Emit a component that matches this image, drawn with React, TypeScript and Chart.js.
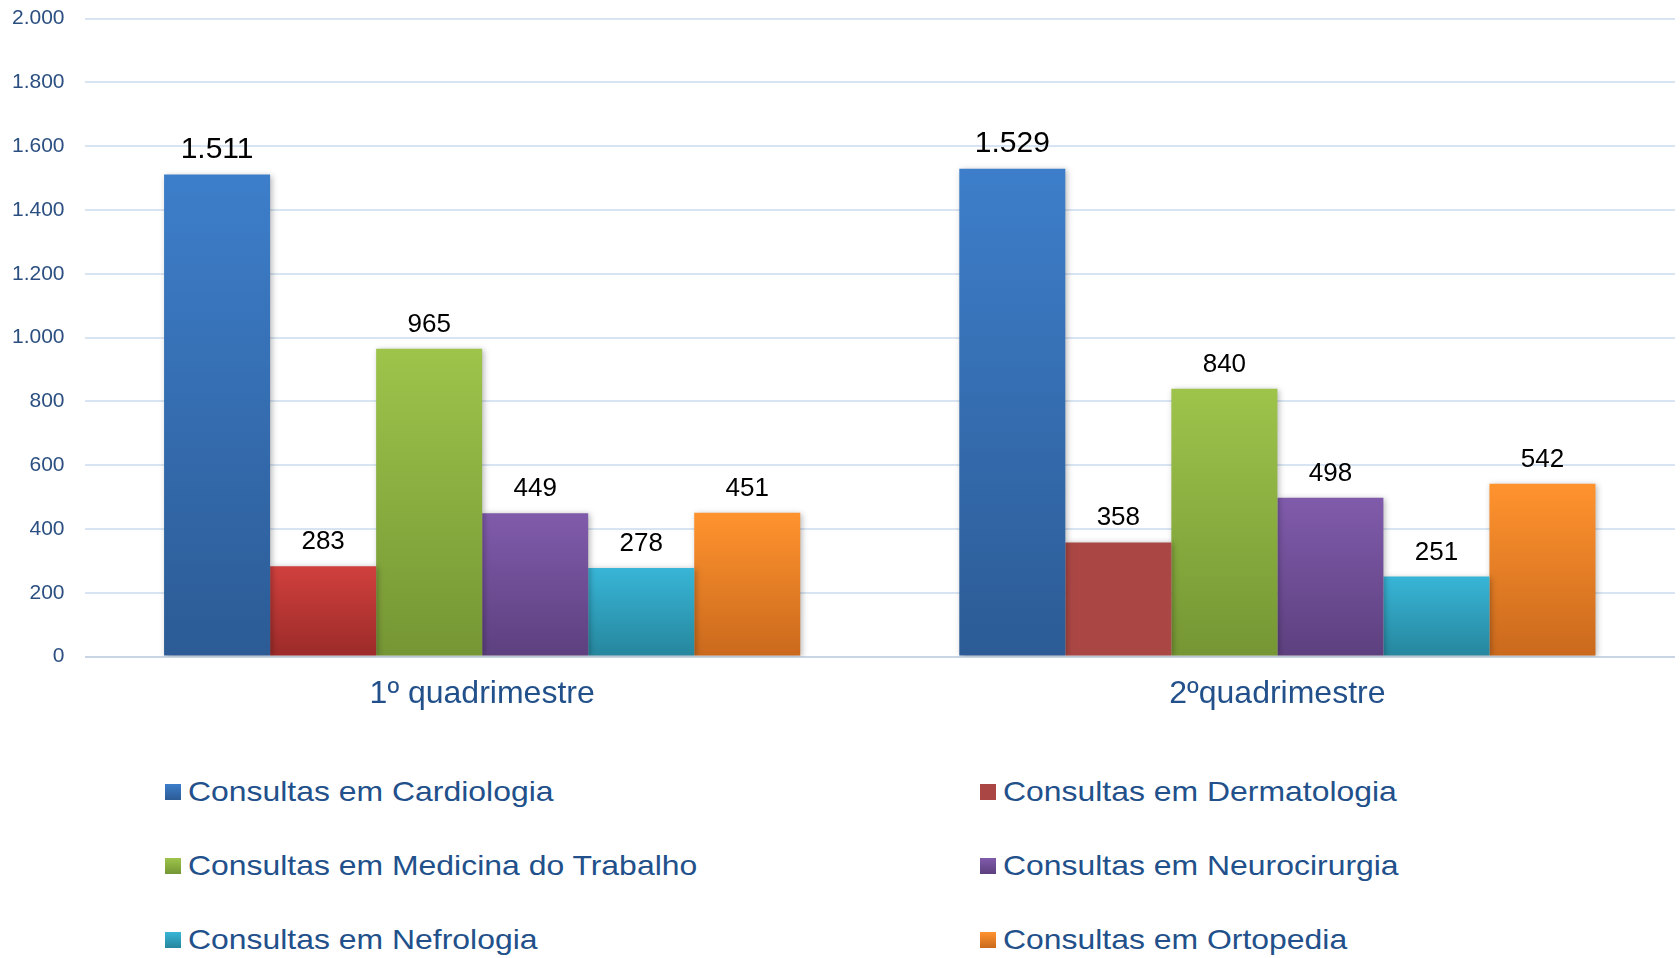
import React, { useEffect, useRef } from "react";
import { Chart, registerables } from "chart.js";

Chart.register(...registerables);

// ---------- data ----------
const categories = ["1º quadrimestre", "2ºquadrimestre"];
const seriesNames = [
  "Consultas em Cardiologia",
  "Consultas em Dermatologia",
  "Consultas em Medicina do Trabalho",
  "Consultas em Neurocirurgia",
  "Consultas em Nefrologia",
  "Consultas em Ortopedia",
];
const cardiologia = [1511, 1529];
const dermatologia = [283, 358];
const medicinaTrabalho = [965, 840];
const neurocirurgia = [449, 498];
const nefrologia = [278, 251];
const ortopedia = [451, 542];
const yMin = 0;
const yMax = 2000;
const yStep = 200;

// ---------- styles ----------
const gradients: [string, string][] = [
  ["#3D7ECA", "#2C5B95"],
  ["#D0403D", "#9B2B29"],
  ["#9EC44B", "#759634"],
  ["#805BAB", "#5D407F"],
  ["#38B5D7", "#26869D"],
  ["#FF932E", "#CA691D"],
];
const flatDerm2 = "#AA4744";
const legendColors: [string, string][] = [
  ["#3D7ECA", "#2C5B95"],
  ["#AA4744", "#AA4744"],
  ["#9EC44B", "#759634"],
  ["#805BAB", "#5D407F"],
  ["#38B5D7", "#26869D"],
  ["#FF932E", "#CA691D"],
];
const FONT = "'Liberation Sans', Arial, sans-serif";
const TEXT_BLUE = "#22508A";

const fmt = (v: number) =>
  String(v).replace(/\B(?=(\d{3})+(?!\d))/g, ".");

function gradFill(idx: number) {
  return (ctx: any) => {
    const chart = ctx.chart;
    if (idx === 1 && ctx.dataIndex === 1) return flatDerm2;
    const [c1, c2] = gradients[idx];
    if (!chart.chartArea || ctx.raw === undefined) return c1;
    const ys = chart.scales.y;
    const top = ys.getPixelForValue(ctx.raw);
    const bottom = ys.getPixelForValue(0);
    if (!isFinite(top) || !isFinite(bottom) || bottom - top < 1) return c1;
    const g = chart.ctx.createLinearGradient(0, top, 0, bottom);
    g.addColorStop(0, c1);
    g.addColorStop(1, c2);
    return g;
  };
}

const shadowPlugin = {
  id: "barShadow",
  beforeDatasetsDraw(chart: any) {
    const c = chart.ctx;
    c.save();
    c.shadowColor = "rgba(0,0,0,0.28)";
    c.shadowBlur = 6;
    c.shadowOffsetX = 2;
    c.shadowOffsetY = 1;
  },
  afterDatasetsDraw(chart: any) {
    chart.ctx.restore();
  },
};

const labelPlugin = {
  id: "valueLabels",
  afterDatasetsDraw(chart: any) {
    const c = chart.ctx;
    c.save();
    c.fillStyle = "#000000";
    c.textAlign = "center";
    c.textBaseline = "alphabetic";
    chart.data.datasets.forEach((ds: any, di: number) => {
      const meta = chart.getDatasetMeta(di);
      meta.data.forEach((el: any, i: number) => {
        const v = ds.data[i] as number;
        const size = v >= 1000 ? 30 : 26;
        c.font = `${size}px ${FONT}`;
        c.fillText(fmt(v), el.x, el.y - 17);
      });
    });
    c.restore();
  },
};

export default function App() {
  const canvasRef = useRef<HTMLCanvasElement | null>(null);

  useEffect(() => {
    document.body.style.margin = "0";
    const canvas = canvasRef.current;
    if (!canvas) return;
    const seriesValues = [
      cardiologia,
      dermatologia,
      medicinaTrabalho,
      neurocirurgia,
      nefrologia,
      ortopedia,
    ];
    const chart = new Chart(canvas, {
      type: "bar",
      data: {
        labels: categories,
        datasets: seriesValues.map((vals, i) => ({
          label: seriesNames[i],
          data: vals,
          backgroundColor: gradFill(i),
          borderWidth: 0,
          categoryPercentage: 0.8,
          barPercentage: 1.0,
        })),
      },
      options: {
        animation: false,
        responsive: true,
        maintainAspectRatio: false,
        layout: { padding: { left: 15, right: 5, top: 5, bottom: 1 } },
        plugins: {
          legend: { display: false },
          tooltip: { enabled: false },
        },
        scales: {
          x: {
            grid: { display: false, drawTicks: false },
            border: { display: false },
            ticks: {
              padding: 18,
              color: TEXT_BLUE,
              font: { family: FONT, size: 32 },
            },
          },
          y: {
            min: yMin,
            max: yMax,
            grid: {
              color: (ctx: any) => (ctx.tick && ctx.tick.value === 0 ? "#C9D5E3" : "#D9E4F2"),
              lineWidth: 2,
              drawTicks: false,
            },
            border: { display: false },
            ticks: {
              stepSize: yStep,
              padding: 20,
              color: "#2B4F80",
              font: { family: FONT, size: 21 },
              callback: (v: any) => fmt(Number(v)),
            },
          },
        },
      },
      plugins: [shadowPlugin, labelPlugin],
    });
    return () => chart.destroy();
  }, []);

  const legendPos = [
    { left: 165, top: 792 },
    { left: 980, top: 792 },
    { left: 165, top: 866 },
    { left: 980, top: 866 },
    { left: 165, top: 940 },
    { left: 980, top: 940 },
  ];

  return (
    <div style={{ position: "relative", width: 1680, height: 958, background: "#ffffff", overflow: "hidden" }}>
      <div style={{ position: "absolute", left: -23, top: -14, width: 1703, height: 746 }}>
        <canvas ref={canvasRef} />
      </div>
      {seriesNames.map((name, i) => (
        <div
          key={name}
          style={{
            position: "absolute",
            left: legendPos[i].left,
            top: legendPos[i].top - 18,
            height: 36,
            display: "flex",
            alignItems: "center",
            whiteSpace: "nowrap",
          }}
        >
          <span
            style={{
              display: "inline-block",
              width: 16,
              height: 16,
              background: `linear-gradient(${legendColors[i][0]}, ${legendColors[i][1]})`,
              marginRight: 7,
            }}
          />
          <span
            style={{
              fontFamily: FONT,
              fontSize: 28,
              color: TEXT_BLUE,
              display: "inline-block",
              transform: "scaleX(1.14)",
              transformOrigin: "left center",
            }}
          >
            {name}
          </span>
        </div>
      ))}
    </div>
  );
}
